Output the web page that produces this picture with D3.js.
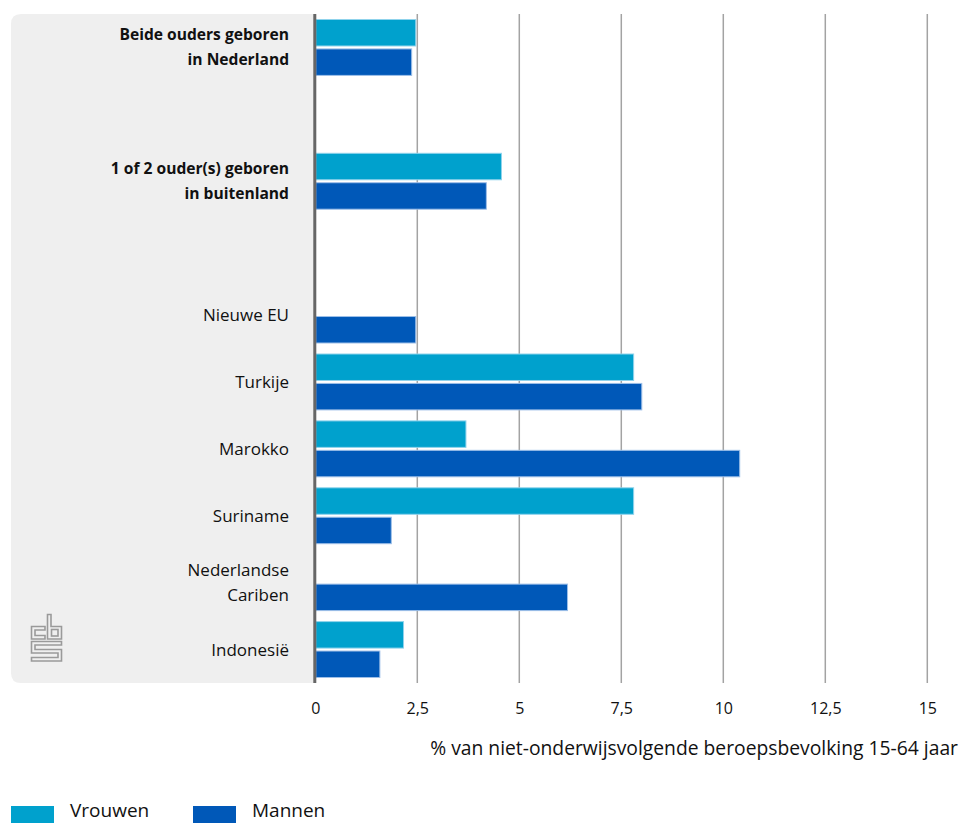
<!DOCTYPE html>
<html>
<head>
<meta charset="utf-8">
<script src="https://cdn.jsdelivr.net/npm/d3@7"></script>
<style>
  html, body { margin: 0; padding: 0; background: #fff; }
  svg { display: block; }
  text { font-family: "Open Sans", "Noto Sans", sans-serif; fill: #111; }
</style>
</head>
<body>
<svg id="chart" width="963" height="823"></svg>
<script>
// ---- data ----
const categories = [
  "Beide ouders geboren\nin Nederland",
  "",
  "1 of 2 ouder(s) geboren\nin buitenland",
  "",
  "Nieuwe EU",
  "Turkije",
  "Marokko",
  "Suriname",
  "Nederlandse\nCariben",
  "Indonesië"
];
const boldCategories = [true, false, true, false, false, false, false, false, false, false];
const seriesNames = ["Vrouwen", "Mannen"];
const vrouwen = [2.45, null, 4.55, null, null, 7.79, 3.68, 7.79, null, 2.15];
const mannen  = [2.35, null, 4.18, null, 2.45, 7.99, 10.39, 1.85, 6.17, 1.57];
const tickValues = [0, 2.5, 5, 7.5, 10, 12.5, 15];
const axisTitle = "% van niet-onderwijsvolgende beroepsbevolking 15-64 jaar";
const colors = { "Vrouwen": "#00A1CD", "Mannen": "#0058B8" };
const strokeColors = { "Vrouwen": "#8fd3ec", "Mannen": "#9dbfe8" };

// ---- layout ----
const svg = d3.select("#chart");
const plotTop = 14, plotBottom = 683;
const x0 = 315.3, xMax = 927.3;
const panelLeft = 11;

const x = d3.scaleLinear().domain([0, 15]).range([x0, xMax]);
const y = d3.scaleBand().domain(d3.range(categories.length)).range([plotTop, plotBottom]).padding(0);
const ySub = d3.scaleBand().domain(seriesNames).range([5.5, y.bandwidth() - 5.5]).paddingInner(0.1);

// gray label panel with rounded left corners
const r = 10;
svg.append("path")
  .attr("d", `M${x0},${plotTop} H${panelLeft + r} Q${panelLeft},${plotTop} ${panelLeft},${plotTop + r} V${plotBottom - r} Q${panelLeft},${plotBottom} ${panelLeft + r},${plotBottom} H${x0} Z`)
  .attr("fill", "#efefef");

// gridlines
svg.append("g").selectAll("line")
  .data(tickValues.filter(d => d > 0))
  .join("line")
  .attr("x1", d => x(d)).attr("x2", d => x(d))
  .attr("y1", plotTop).attr("y2", plotBottom)
  .attr("stroke", "#a3a3a3").attr("stroke-width", 1.5);

// bars
const rows = categories.map((c, i) => ({ i, Vrouwen: vrouwen[i], Mannen: mannen[i] }));
const barData = [];
rows.forEach(row => seriesNames.forEach(s => {
  if (row[s] != null) barData.push({ i: row.i, s, v: row[s] });
}));
svg.append("g").selectAll("rect")
  .data(barData)
  .join("rect")
  .attr("x", x(0) + 0.5)
  .attr("y", d => y(d.i) + ySub(d.s))
  .attr("width", d => x(d.v) - x(0))
  .attr("height", ySub.bandwidth())
  .attr("fill", d => colors[d.s])
  .attr("stroke", d => strokeColors[d.s])
  .attr("stroke-width", 1);

// axis line (zero)
svg.append("line")
  .attr("x1", x(0) - 0.5).attr("x2", x(0) - 0.5)
  .attr("y1", plotTop).attr("y2", plotBottom)
  .attr("stroke", "#666").attr("stroke-width", 3);

// category labels
const labelG = svg.append("g");
categories.forEach((c, i) => {
  if (!c) return;
  const lines = c.split("\n");
  const cy = y(i) + y.bandwidth() / 2;
  const lh = 25;
  const t = labelG.append("text")
    .attr("text-anchor", "end")
    .attr("font-size", boldCategories[i] ? 15.6 : 17)
    .attr("font-weight", boldCategories[i] ? 700 : 400);
  lines.forEach((ln, k) => {
    t.append("tspan")
      .attr("x", 289)
      .attr("y", cy + (k - (lines.length - 1) / 2) * lh)
      .attr("dy", "0.35em")
      .text(ln);
  });
});

// x axis tick labels
const fmt = d => String(d).replace(".", ",");
const xAxis = d3.axisBottom(x).tickValues(tickValues).tickFormat(fmt).tickSize(0).tickPadding(0);
const axG = svg.append("g").attr("transform", `translate(0,${plotBottom + 20})`).call(xAxis);
axG.select(".domain").remove();
axG.selectAll("text").attr("font-size", 16).attr("fill", "#111")
  .attr("font-family", '"Open Sans", "Noto Sans", sans-serif');

// axis title
svg.append("text")
  .attr("x", 958).attr("y", 748).attr("dy", "0.35em")
  .attr("text-anchor", "end").attr("font-size", 19.3)
  .text(axisTitle);

// legend
const legend = svg.append("g");
const legendX = [11, 193];
seriesNames.forEach((s, k) => {
  legend.append("rect")
    .attr("x", legendX[k]).attr("y", 806)
    .attr("width", 43).attr("height", 20)
    .attr("fill", colors[s]);
  legend.append("text")
    .attr("x", legendX[k] + 59).attr("y", 817)
    .attr("font-size", 19)
    .text(s);
});

// CBS logo (outline)
const logo = svg.append("g")
  .attr("fill", "none").attr("stroke", "#9a9a9a").attr("stroke-width", 1.6);
// "c"
logo.append("path").attr("d", "M45,626.5 H31.5 V639 H45 V635.5 H35 V630 H45 Z");
// "b"
logo.append("path").attr("d", "M47.5,614.5 H51 V626.5 H61.5 V639 H47.5 Z");
logo.append("rect").attr("x", 51.5).attr("y", 629.5).attr("width", 6.5).attr("height", 6.5);
// "S"
logo.append("path").attr("d", "M31.5,641.5 H61.5 V645 H35 V649.5 H61.5 V661 H31.5 V657.5 H58 V653 H31.5 Z");
</script>
</body>
</html>
